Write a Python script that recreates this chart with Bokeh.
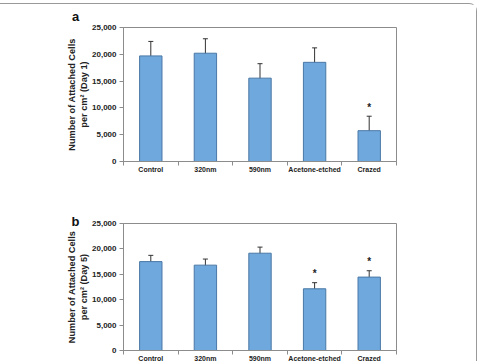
from bokeh.plotting import figure
from bokeh.models import (ColumnDataSource, Whisker, TeeHead, FixedTicker,
                          NumeralTickFormatter, Label, Column)
from bokeh.embed import file_html
from bokeh.resources import INLINE
from bokeh.core.properties import value

categories = ["Control", "320nm", "590nm", "Acetone-etched", "Crazed"]
day1_mean = [19700, 20200, 15550, 18500, 5750]
day1_err = [2700, 2700, 2700, 2700, 2700]
day1_sig = [False, False, False, False, True]
day5_mean = [17500, 16800, 19150, 12150, 14450]
day5_err = [1230, 1200, 1200, 1200, 1250]
day5_sig = [False, False, False, True, True]
y_ticks = [0, 5000, 10000, 15000, 20000, 25000]

FONT = "Liberation Sans"
BAR_FILL = "#6FA8DC"
BAR_LINE = "#4A78A6"
GRAY = "#8C8C8C"
TEXT = "#222222"


def make_panel(letter, day, means, errs, sigs, height, border_top, border_right,
               border_bottom, letter_base):
    xs = [i + 0.5 for i in range(len(categories))]
    src = ColumnDataSource(dict(
        x=xs, top=means,
        upper=[m + e for m, e in zip(means, errs)],
        lower=[m - e for m, e in zip(means, errs)],
    ))
    p = figure(width=476, height=height, x_range=(0, len(categories)), y_range=(0, 25000),
               output_backend="svg", toolbar_location=None, tools="",
               min_border_left=123, min_border_right=border_right,
               min_border_top=border_top, min_border_bottom=border_bottom)
    p.background_fill_color = "white"
    p.border_fill_color = "white"
    p.outline_line_color = GRAY
    p.outline_line_width = 1
    p.grid.visible = False

    p.vbar(x="x", top="top", width=0.41, source=src, fill_color=BAR_FILL,
           line_color=BAR_LINE, line_width=1)
    w = Whisker(base="x", upper="upper", lower="lower", source=src,
                line_color="#333333", line_width=1,
                upper_head=TeeHead(size=5, line_color="#333333", line_width=1),
                lower_head=TeeHead(size=5, line_color="#333333", line_width=1))
    p.add_layout(w)

    sx = [x for x, s in zip(xs, sigs) if s]
    sy = [m + e for m, e, s in zip(means, errs, sigs) if s]
    p.text(x=sx, y=sy, text=["*"] * len(sx), text_align="center",
           text_baseline="alphabetic", y_offset=-9, text_font=value(FONT),
           text_font_size="10px", text_font_style="bold", text_color=TEXT)

    # y axis
    ya = p.yaxis[0]
    ya.ticker = FixedTicker(ticks=y_ticks)
    ya.formatter = NumeralTickFormatter(format="0,0")
    ya.axis_label = "Number of Attached Cells\nper cm\u00b2 (Day %d)" % day
    ya.axis_label_text_font = FONT
    ya.axis_label_text_font_size = "9.2px"
    ya.axis_label_text_font_style = "bold"
    ya.axis_label_text_color = TEXT
    ya.axis_label_standoff = 0
    ya.major_label_text_font = FONT
    ya.major_label_text_font_size = "8px"
    ya.major_label_text_font_style = "bold"
    ya.major_label_text_color = TEXT
    ya.major_label_standoff = 3
    ya.major_tick_out = 4
    ya.major_tick_in = 0
    ya.minor_tick_out = 0
    ya.minor_tick_in = 0
    ya.axis_line_color = GRAY
    ya.major_tick_line_color = GRAY

    # x axis
    xa = p.xaxis[0]
    xa.ticker = FixedTicker(ticks=xs, minor_ticks=list(range(len(categories) + 1)))
    xa.major_label_overrides = {x: c for x, c in zip(xs, categories)}
    xa.major_label_text_font = FONT
    xa.major_label_text_font_size = "7px"
    xa.major_label_text_font_style = "bold"
    xa.major_label_text_color = TEXT
    xa.major_label_standoff = 0
    xa.major_tick_out = 0
    xa.major_tick_in = 0
    xa.minor_tick_out = 4
    xa.minor_tick_in = 0
    xa.axis_line_color = GRAY
    xa.minor_tick_line_color = GRAY

    # panel letter, placed in the panel above the frame (not clipped)
    p.add_layout(Label(x=-48, y=letter_base, x_units="screen", y_units="screen",
                       text=letter, text_align="center", text_baseline="alphabetic",
                       text_font=FONT, text_font_size="13px",
                       text_font_style="bold", text_color="#111111"), "above")
    return p


pa = make_panel("a", 1, day1_mean, day1_err, day1_sig, 176, 23, 70, 19, 11)
pb = make_panel("b", 5, day5_mean, day5_err, day5_sig, 184, 43, 80, 14, 2)

layout = Column(pa, pb, spacing=0, styles={
    "margin-top": "3px",
    "border-top": "1px solid #999999",
    "border-right": "1px solid #999999",
    "border-top-right-radius": "8px",
})

open("out.html", "w").write(file_html(layout, INLINE))
